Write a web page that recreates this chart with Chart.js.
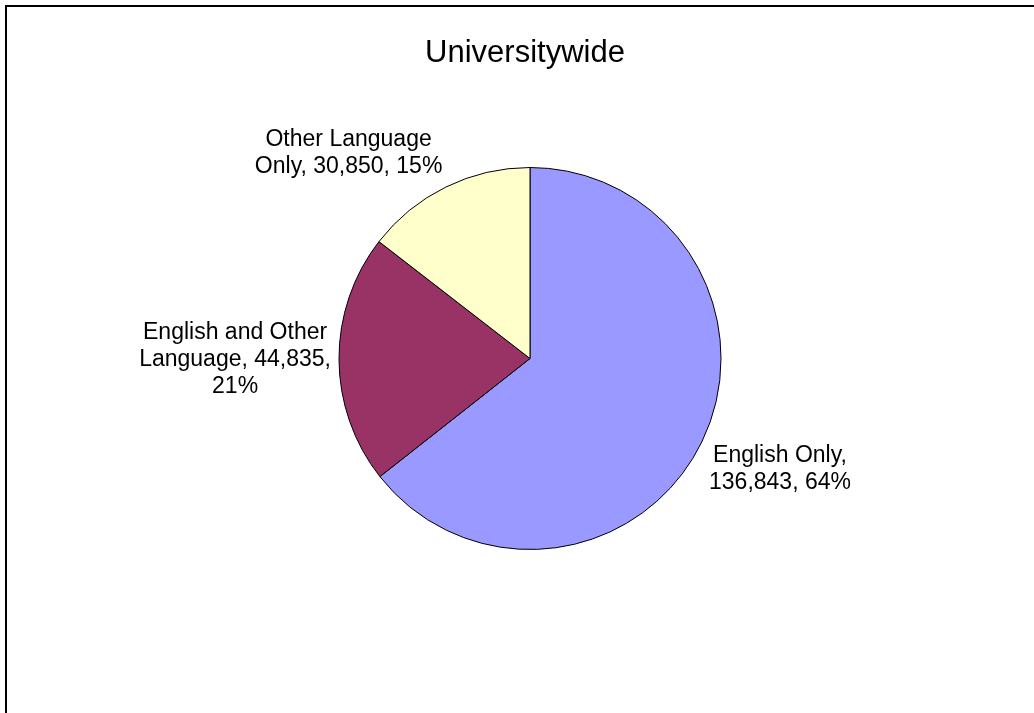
<!DOCTYPE html>
<html>
<head>
<meta charset="utf-8">
<title>Universitywide</title>
<script src="https://cdn.jsdelivr.net/npm/chart.js@4.4.1/dist/chart.umd.min.js"></script>
<style>
  html, body { margin: 0; padding: 0; background: #fff; overflow: hidden; }
  .wrap { position: relative; width: 1034px; height: 713px; }
  .frame { position: absolute; left: 5px; top: 5px; width: 1060px; height: 740px;
           border: 2px solid #000; box-sizing: border-box; pointer-events: none; }
</style>
</head>
<body>
<div class="wrap">
  <canvas id="pie" role="img" aria-label="Universitywide language pie chart"></canvas>
  <div class="frame"></div>
</div>
<script>
  "use strict";

  var TITLE = "Universitywide";
  var categories = ["English Only", "English and Other Language", "Other Language Only"];
  var counts = [136843, 44835, 30850];
  var colors = ["#9999FF", "#993366", "#FFFFCC"];

  var FONT = "Arial, 'Liberation Sans', sans-serif";

  function fmt(n) { return n.toLocaleString("en-US"); }

  function wrap(ctx, text, maxW) {
    var words = text.split(" "), lines = [], cur = "";
    words.forEach(function (w) {
      var t = cur ? cur + " " + w : w;
      if (cur && ctx.measureText(t).width > maxW) { lines.push(cur); cur = w; }
      else cur = t;
    });
    if (cur) lines.push(cur);
    return lines;
  }

  function clamp(v) { return Math.max(-1, Math.min(1, v)); }

  /* title + outside data labels, Excel style */
  var labelsPlugin = {
    id: "pieLabels",
    afterDraw: function (chart) {
      var ctx = chart.ctx;
      var total = counts.reduce(function (s, v) { return s + v; }, 0);
      ctx.save();
      ctx.fillStyle = "#000";
      ctx.textAlign = "center";
      ctx.textBaseline = "middle";

      ctx.font = "31px " + FONT;
      ctx.fillText(TITLE, 525, 53);

      ctx.font = "23px " + FONT;
      var lh = 27;
      chart.getDatasetMeta(0).data.forEach(function (arc, i) {
        var pct = Math.round(counts[i] / total * 100);
        var lines = wrap(ctx, categories[i] + ", " + fmt(counts[i]) + ", " + pct + "%", 210);
        var w = Math.max.apply(null, lines.map(function (l) { return ctx.measureText(l).width; }));
        var h = lines.length * lh;
        var mid = (arc.startAngle + arc.endAngle) / 2;
        var c = Math.cos(mid), s = Math.sin(mid);
        var r = arc.outerRadius + 8;
        var ax = arc.x + r * c, ay = arc.y + r * s;
        var cx = ax + w / 2 * clamp(c * 3);
        var cy = ay + h / 2 * clamp(s * 2);
        lines.forEach(function (l, k) {
          ctx.fillText(l, cx, cy - h / 2 + lh * (k + 0.5));
        });
      });
      ctx.restore();
    }
  };

  new Chart(document.getElementById("pie"), {
    type: "pie",
    data: {
      labels: categories,
      datasets: [{
        data: counts,
        backgroundColor: colors,
        borderColor: "#000",
        borderWidth: 1
      }]
    },
    options: {
      responsive: true, maintainAspectRatio: false, animation: false,
      layout: { padding: { top: 167, bottom: 163, left: 300, right: 274 } },
      plugins: {
        legend: { display: false },
        tooltip: { enabled: false },
        title: { display: false }
      }
    },
    plugins: [labelsPlugin]
  });
</script>
</body>
</html>
